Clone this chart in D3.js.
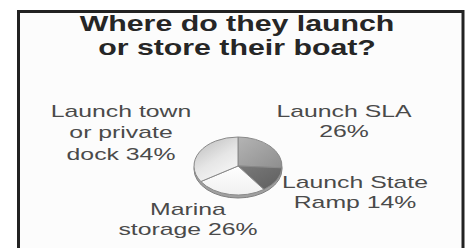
<!DOCTYPE html>
<html><head><meta charset="utf-8">
<script src="https://cdn.jsdelivr.net/npm/d3@7"></script>
<style>html,body{margin:0;padding:0;background:#fff;overflow:hidden;}svg{display:block;}</style>
</head><body>
<script>
const titleLines = ["Where do they launch", "or store their boat?"];
const categories = ["Launch SLA", "Launch State Ramp", "Marina storage", "Launch town or private dock"];
const values = [26, 14, 26, 34];
const labelLines = [
  ["Launch SLA", "26%"],
  ["Launch State", "Ramp 14%"],
  ["Marina", "storage 26%"],
  ["Launch town", "or private", "dock 34%"]
];
const fills = ["url(#gSla)", "url(#gState)", "url(#gMarina)", "url(#gTown)"];

const W = 466, H = 248;
const svg = d3.select("body").append("svg").attr("width", W).attr("height", H);
const defs = svg.append("defs");
function lg(id, stops, x1, y1, x2, y2) {
  const g = defs.append("linearGradient").attr("id", id)
    .attr("x1", x1).attr("y1", y1).attr("x2", x2).attr("y2", y2);
  stops.forEach(s => g.append("stop").attr("offset", s[0]).attr("stop-color", s[1]));
}
lg("gSla", [[0, "#b4b4b4"], [1, "#8e8e8e"]], "0", "0", "1", "1");
lg("gState", [[0, "#7a7a7a"], [1, "#5e5e5e"]], "0", "0", "1", "1");
lg("gMarina", [[0, "#ffffff"], [1, "#f0f0f0"]], "0", "0", "0", "1");
lg("gTown", [[0, "#b8b8b8"], [0.6, "#e6e6e6"], [1, "#f6f6f6"]], "0", "0", "0.6", "1");

// panel
svg.append("rect").attr("x", 18.5).attr("y", 11.5).attr("width", 444.5).attr("height", 260)
  .attr("fill", "#fcfcfc").attr("stroke", "#222").attr("stroke-width", 3);

// title
const title = svg.append("g").attr("transform", "translate(237,0) scale(1.39,1)");
title.selectAll("text").data(titleLines).join("text")
  .attr("x", 0).attr("y", (d, i) => 31 + i * 24.5)
  .attr("text-anchor", "middle")
  .attr("font-family", "Liberation Sans, Arial, sans-serif")
  .attr("font-weight", "bold").attr("font-size", 21.8).attr("fill", "#262626")
  .text(d => d);

// pie
const cx = 238, cy = 166, rx = 44, ry = 29;
const pie = d3.pie().sort(null).value(d => d)(values);
const arc = d3.arc().innerRadius(0).outerRadius(rx);
// side / thickness
svg.append("ellipse").attr("cx", cx).attr("cy", cy + 3).attr("rx", rx).attr("ry", ry)
  .attr("fill", "#a0a0a0").attr("stroke", "#808080").attr("stroke-width", 1);
const pg = svg.append("g").attr("transform", `translate(${cx},${cy}) scale(1,${ry / rx})`);
pg.selectAll("path").data(pie).join("path")
  .attr("d", arc)
  .attr("fill", (d, i) => fills[i])
  .attr("stroke", "#8a8a8a").attr("stroke-width", 1)
  .attr("vector-effect", "non-scaling-stroke");

// labels
const labelPos = [[344, 117], [355, 188], [188, 215], [121, 117]];
const lineGap = [20, 20, 20, 21.5];
labelLines.forEach((lines, k) => {
  const g = svg.append("g").attr("transform", `translate(${labelPos[k][0]},0) scale(1.55,1)`);
  g.selectAll("text").data(lines).join("text")
    .attr("x", 0).attr("y", (d, i) => labelPos[k][1] + i * lineGap[k])
    .attr("text-anchor", "middle")
    .attr("font-family", "Liberation Sans, Arial, sans-serif")
    .attr("font-size", 16).attr("fill", "#4a4a4a")
    .text(d => d);
});
</script>
</body></html>
